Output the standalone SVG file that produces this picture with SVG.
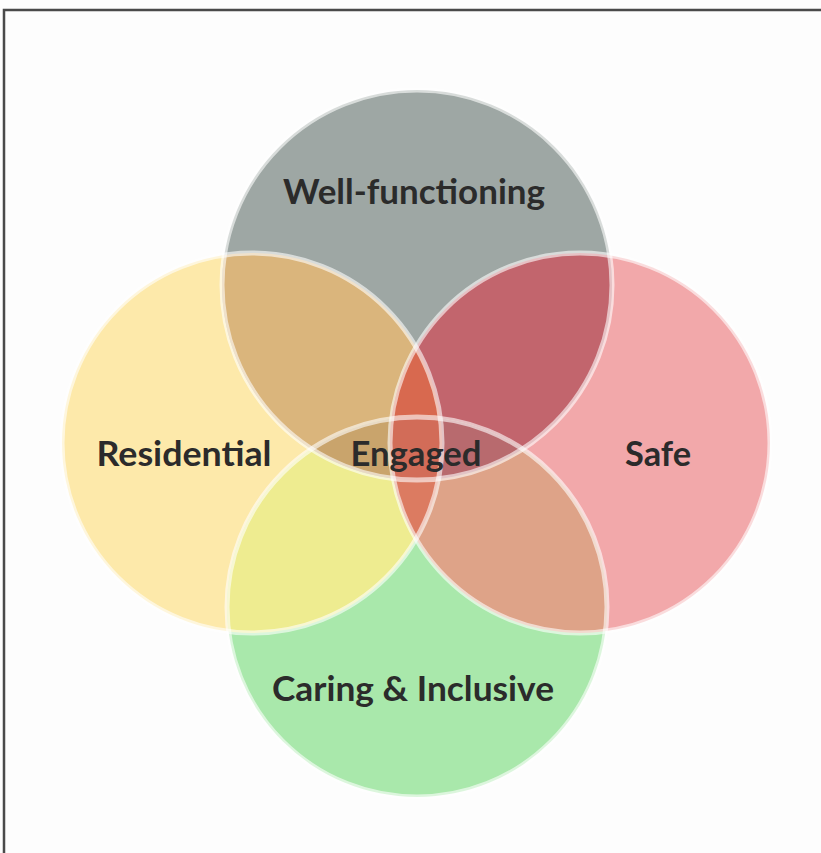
<svg xmlns="http://www.w3.org/2000/svg" width="821" height="853" viewBox="0 0 821 853">
<style>
.lbl{font-family:Lato,"Open Sans","Liberation Sans",sans-serif;font-weight:bold;fill:#2b2b2b;text-anchor:middle}
.edge{fill:none;stroke:#ffffff;stroke-opacity:0.6;stroke-width:5}
</style>
<defs>
<clipPath id="cG"><circle cx="417" cy="285" r="195"/></clipPath>
<clipPath id="cY"><circle cx="252" cy="443" r="190"/></clipPath>
<clipPath id="cP"><circle cx="580" cy="443" r="190"/></clipPath>
<clipPath id="cN"><circle cx="417" cy="607" r="190"/></clipPath>
</defs>
<rect width="821" height="853" fill="#fdfdfd"/>
<path d="M4,853 V10 H821" fill="none" stroke="#4a4a4a" stroke-width="2.5"/>
<g id="residential"><circle cx="252" cy="443" r="190" fill="#fde9aa"/></g>
<g id="safe"><circle cx="580" cy="443" r="190" fill="#f2a8aa"/></g>
<g id="well-functioning"><circle cx="417" cy="285" r="195" fill="#9ea7a4"/></g>
<g id="caring-inclusive"><circle cx="417" cy="607" r="190" fill="#a9e8ab"/></g>
<g id="overlaps">
<circle cx="417" cy="285" r="195" fill="#dab57c" clip-path="url(#cY)"/>
<circle cx="417" cy="285" r="195" fill="#c2656d" clip-path="url(#cP)"/>
<circle cx="417" cy="607" r="190" fill="#eeec90" clip-path="url(#cY)"/>
<circle cx="417" cy="607" r="190" fill="#dea388" clip-path="url(#cP)"/>
<circle cx="417" cy="607" r="190" fill="#a9b8a0" clip-path="url(#cG)"/>
<g clip-path="url(#cY)"><circle cx="580" cy="443" r="190" fill="#d8694f" clip-path="url(#cG)"/></g>
<g clip-path="url(#cY)"><circle cx="580" cy="443" r="190" fill="#dc7b61" clip-path="url(#cN)"/></g>
<g clip-path="url(#cY)"><circle cx="417" cy="285" r="195" fill="#c9a46c" clip-path="url(#cN)"/></g>
<g clip-path="url(#cP)"><circle cx="417" cy="285" r="195" fill="#b86a6e" clip-path="url(#cN)"/></g>
<g clip-path="url(#cY)"><g clip-path="url(#cP)"><circle cx="417" cy="285" r="195" fill="#d26c58" clip-path="url(#cN)"/></g></g>
</g>
<g id="edges">
<circle class="edge" cx="252" cy="443" r="190" stroke-opacity="0.35"/>
<circle class="edge" cx="580" cy="443" r="190"/>
<circle class="edge" cx="417" cy="285" r="195"/>
<circle class="edge" cx="417" cy="607" r="190"/>
</g>
<g id="labels">
<text class="lbl" x="414" y="204" font-size="34" textLength="262" lengthAdjust="spacingAndGlyphs">Well-functioning</text>
<text class="lbl" x="184" y="466" font-size="34" textLength="175" lengthAdjust="spacingAndGlyphs">Residential</text>
<text class="lbl" x="416" y="466" font-size="34" textLength="131" lengthAdjust="spacingAndGlyphs">Engaged</text>
<text class="lbl" x="658" y="466" font-size="34" textLength="66" lengthAdjust="spacingAndGlyphs">Safe</text>
<text class="lbl" x="413" y="701" font-size="34" textLength="282" lengthAdjust="spacingAndGlyphs">Caring &amp; Inclusive</text>
</g>
</svg>
